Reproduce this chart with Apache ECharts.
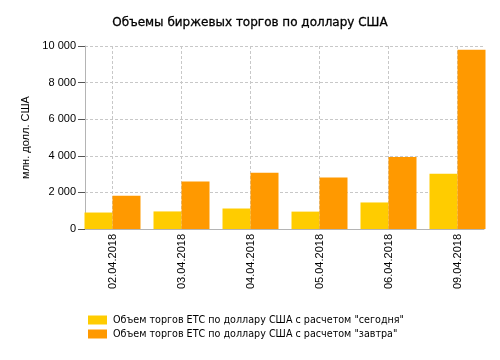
<!DOCTYPE html>
<html><head><meta charset="utf-8">
<script src="https://cdn.jsdelivr.net/npm/echarts@6/dist/echarts.min.js"></script>
<style>html,body{margin:0;padding:0;background:#fff}#c{width:500px;height:360px}</style>
</head><body><div id="c"></div>
<script>
var categories = ['02.04.2018','03.04.2018','04.04.2018','05.04.2018','06.04.2018','09.04.2018'];
var seriesToday = [900, 960, 1120, 950, 1450, 3020];
var seriesTomorrow = [1820, 2590, 3080, 2820, 3940, 9790];
var seriesNames = ['Объем торгов ЕТС по доллару США с расчетом "сегодня"','Объем торгов ЕТС по доллару США с расчетом "завтра"'];
var yTicks = [0, 2000, 4000, 6000, 8000, 10000];

var chart = echarts.init(document.getElementById('c'), null, {renderer:'canvas'});
function fmt(v){ return String(v).replace(/\B(?=(\d{3})+(?!\d))/g, ' '); }
var gridTop = 46, gridBottom = 131;
chart.setOption({
  animation:false,
  title:{text:'Объемы биржевых торгов по доллару США', left:'center', top:12,
    textStyle:{fontFamily:'DejaVu Sans', fontSize:12, fontWeight:'normal', color:'#000',
      textBorderColor:'#000', textBorderWidth:0.3}},
  legend:{orient:'vertical', left:83, top:310, itemWidth:19, itemHeight:9, itemGap:4,
    icon:'rect', data:seriesNames,
    textStyle:{fontFamily:'DejaVu Sans', fontSize:9.6, color:'#000', padding:[0,0,0,1]}},
  grid:[
    {left:85, top:gridTop, width:399, bottom:gridBottom},
    {left:112.5, top:gridTop, width:345, bottom:gridBottom}
  ],
  xAxis:[
    {gridIndex:0, type:'category', data:categories, show:true,
      axisLine:{show:true, lineStyle:{color:'#b4b4b4', width:1}},
      axisTick:{show:false}, axisLabel:{show:false}, splitLine:{show:false}},
    {gridIndex:1, type:'category', data:categories, boundaryGap:false,
      axisLine:{show:false}, axisTick:{show:false},
      axisLabel:{rotate:90, margin:5, fontFamily:'Liberation Sans', fontSize:11, color:'#000', interval:0},
      splitLine:{show:true, interval:0, lineStyle:{type:[3,2], color:'#c8c8c8', width:1}}}
  ],
  yAxis:[
    {gridIndex:0, type:'value', min:0, max:10000, interval:2000,
      name:'млн. долл. США', nameLocation:'middle', nameGap:53,
      nameTextStyle:{fontFamily:'Liberation Sans', fontSize:11, color:'#000'},
      axisLine:{show:true, lineStyle:{color:'#b4b4b4', width:1}},
      axisTick:{show:true, inside:false, length:7, lineStyle:{color:'#555'}},
      axisLabel:{formatter:fmt, margin:9, fontFamily:'Liberation Sans', fontSize:11, color:'#000'},
      splitLine:{show:true, lineStyle:{type:[3,2], color:'#c8c8c8', width:1}}},
    {gridIndex:1, type:'value', min:0, max:10000, show:false, splitLine:{show:false}}
  ],
  series:[
    {name:seriesNames[0], type:'bar', xAxisIndex:1, yAxisIndex:1, data:seriesToday,
      barWidth:28, barGap:'0%', clip:false, itemStyle:{color:'#FFCC00'}},
    {name:seriesNames[1], type:'bar', xAxisIndex:1, yAxisIndex:1, data:seriesTomorrow,
      barWidth:28, barGap:'0%', clip:false, itemStyle:{color:'#FF9900'}}
  ]
});
</script></body></html>
